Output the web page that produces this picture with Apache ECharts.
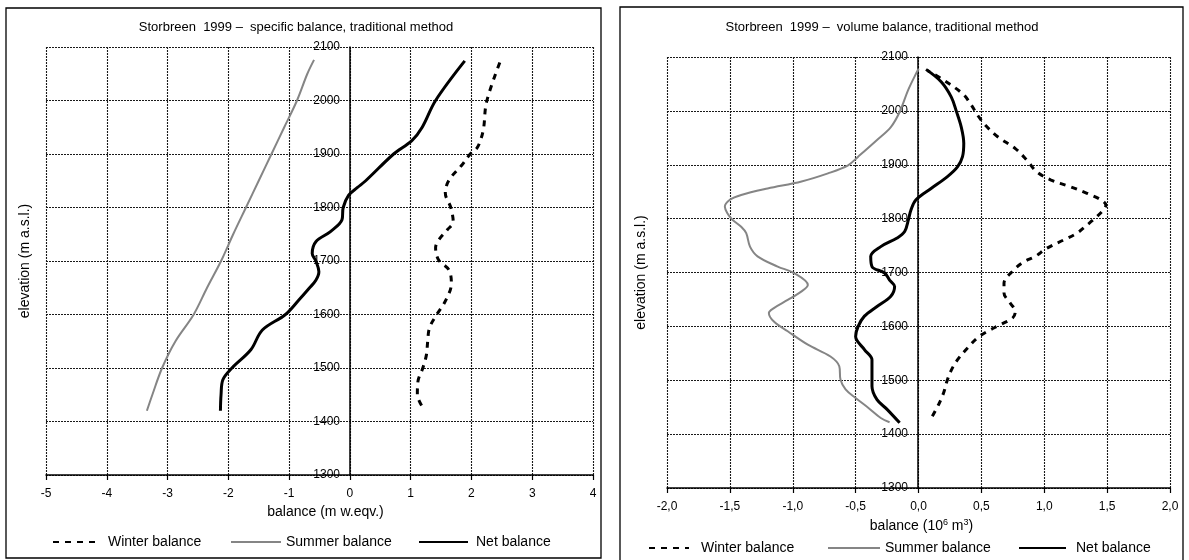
<!DOCTYPE html>
<html>
<head>
<meta charset="utf-8">
<script src="https://cdn.jsdelivr.net/npm/echarts@6/dist/echarts.min.js"></script>
<style>
html,body{margin:0;padding:0;background:#fff;}
#chart{width:1189px;height:560px;}
</style>
</head>
<body>
<div id="chart"></div>
<script>
// ---------- Left chart: specific balance (m w.eqv.) ----------
var winterL_elev = [1430,1450,1475,1500,1525,1550,1575,1600,1625,1658,1683,1702,1725,1739,1758,1773,1800,1827,1851,1879,1900,1911,1926,1948,1998,2075];
var winterL_val  = [1.18,1.11,1.12,1.20,1.26,1.28,1.31,1.43,1.57,1.67,1.63,1.46,1.41,1.46,1.60,1.70,1.66,1.57,1.63,1.84,1.98,2.09,2.15,2.20,2.25,2.48];

var summerL_elev = [1420,1450,1500,1550,1600,1650,1700,1750,1800,1850,1900,1950,2000,2050,2076];
var summerL_val  = [-3.34,-3.25,-3.09,-2.87,-2.57,-2.35,-2.12,-1.92,-1.71,-1.50,-1.29,-1.08,-0.87,-0.70,-0.59];

var netL_elev = [1420,1450,1478,1500,1534,1571,1600,1627,1649,1664,1680,1700,1714,1736,1755,1777,1800,1823,1837,1850,1900,1925,1950,2000,2074];
var netL_val  = [-2.13,-2.12,-2.09,-1.94,-1.63,-1.44,-1.06,-0.84,-0.67,-0.56,-0.51,-0.56,-0.62,-0.56,-0.32,-0.13,-0.11,-0.02,0.12,0.26,0.72,1.02,1.19,1.41,1.89];

// ---------- Right chart: volume balance (10^6 m3) ----------
var winterR_elev = [1433,1455,1477,1501,1523,1541,1560,1579,1591,1603,1616,1628,1643,1662,1680,1705,1720,1730,1745,1761,1773,1788,1804,1816,1825,1835,1847,1859,1872,1887,1909,1930,1952,1974,1992,2011,2032,2060,2075];
var winterR_val  = [0.11,0.16,0.20,0.23,0.27,0.32,0.39,0.47,0.55,0.65,0.75,0.77,0.73,0.68,0.68,0.76,0.84,0.93,1.02,1.16,1.26,1.34,1.42,1.47,1.49,1.45,1.34,1.21,1.05,0.94,0.86,0.77,0.63,0.53,0.47,0.42,0.35,0.18,0.07];

var summerR_elev = [1422,1430,1449,1467,1483,1501,1526,1544,1566,1591,1609,1625,1634,1649,1665,1677,1699,1711,1730,1748,1773,1785,1798,1810,1822,1835,1844,1856,1869,1884,1899,1915,1946,1970,1998,2040,2078];
var summerR_val  = [-0.23,-0.30,-0.40,-0.50,-0.58,-0.62,-0.63,-0.70,-0.88,-1.04,-1.15,-1.19,-1.15,-1.04,-0.93,-0.88,-0.99,-1.12,-1.28,-1.34,-1.37,-1.41,-1.48,-1.52,-1.54,-1.50,-1.41,-1.20,-0.93,-0.72,-0.56,-0.48,-0.33,-0.22,-0.15,-0.08,0.00];

var netR_elev = [1421,1446,1464,1489,1514,1538,1557,1581,1600,1619,1637,1656,1674,1686,1699,1711,1730,1748,1764,1776,1798,1816,1835,1856,1878,1896,1915,1940,1970,2000,2026,2054,2077];
var netR_val  = [-0.15,-0.25,-0.33,-0.37,-0.37,-0.37,-0.43,-0.50,-0.48,-0.43,-0.33,-0.22,-0.19,-0.23,-0.27,-0.37,-0.38,-0.30,-0.17,-0.11,-0.08,-0.06,-0.02,0.10,0.23,0.31,0.35,0.36,0.34,0.30,0.26,0.18,0.06];

// ---------- Axis ticks / labels ----------
var xTicksL = [-5,-4,-3,-2,-1,0,1,2,3,4];
var xTicksR = [-2.0,-1.5,-1.0,-0.5,0.0,0.5,1.0,1.5,2.0];
var yTicks  = [1300,1400,1500,1600,1700,1800,1900,2000,2100];
var titleL = 'Storbreen  1999 \u2013  specific balance, traditional method';
var titleR = 'Storbreen  1999 \u2013  volume balance, traditional method';

function pairs(vals, elevs){ return vals.map(function(v,i){ return [v, elevs[i]]; }); }

var FONT = '"Liberation Sans", Arial, Helvetica, sans-serif';

var styles = {
  'Winter balance': {color:'#000', width:3, type:[6,6], cap:'butt'},
  'Summer balance': {color:'#858585', width:2},
  'Net balance':    {color:'#000', width:3}
};

function mkSeries(name, data, idx){
  return {
    name: name, type:'line', xAxisIndex: idx, yAxisIndex: idx,
    data: data, smooth: 0.35, symbol:'none', showSymbol:false,
    lineStyle: styles[name], itemStyle:{color: styles[name].color}, z: 5,
    animation:false
  };
}

var GRID_LINE = {color:'#1a1a1a', type:[2,1], width:1.1};

function xAxisCfg(idx, ticks, fmt, name, gap, namePad){
  return {
    type:'value', gridIndex: idx, min: ticks[0], max: ticks[ticks.length-1], interval: ticks[1]-ticks[0],
    position:'bottom',
    axisLine:{onZero:false, lineStyle:{color:'#000', width:1.5}},
    axisTick:{show:true, inside:false, length:5, lineStyle:{color:'#000', width:1.2}},
    axisLabel:{color:'#000', fontSize:12, fontFamily:FONT, margin:13, formatter: fmt},
    splitLine:{show:true, lineStyle:GRID_LINE},
    name: name, nameLocation:'middle', nameGap: gap,
    nameTextStyle:{color:'#000', fontSize:14, fontFamily:FONT, padding:namePad,
      rich:{a:{fontSize:14, fontFamily:FONT, color:'#000'}, s:{fontSize:9, fontFamily:FONT, color:'#000', padding:[0,0,7,0]}}}
  };
}

// y axis drawn at x = 0 of the balance axis (offset inward from the grid's left edge)
function yAxisCfg(idx, offset, nameGap){
  return {
    type:'value', gridIndex: idx, min: yTicks[0], max: yTicks[yTicks.length-1], interval: 100,
    position:'left', offset: offset,
    axisLine:{show:true, onZero:false, lineStyle:{color:'#000', width:1.5}},
    axisTick:{show:false},
    axisLabel:{color:'#000', fontSize:12, fontFamily:FONT, margin:10, formatter:function(v){ return String(v); }},
    splitLine:{show:true, lineStyle:GRID_LINE},
    name:'elevation (m a.s.l.)', nameLocation:'middle', nameGap: nameGap,
    nameTextStyle:{color:'#000', fontSize:14, fontFamily:FONT}
  };
}

function legendItem(name, left, top, w, pad){
  return {
    data:[name], left:left, top:top, itemWidth:w, itemHeight:12, orient:'horizontal',
    selectedMode:false, padding:0,
    itemStyle:{opacity:0},
    textStyle:{color:'#000', fontSize:14, fontFamily:FONT, padding:[0,0,0,pad]}
  };
}

var chart = echarts.init(document.getElementById('chart'), null, {renderer:'canvas'});
var option = {
  animation:false,
  backgroundColor:'#fff',
  title:[
    {text:titleL, left:291, top:16, textAlign:'center', textStyle:{color:'#000', fontSize:13, fontWeight:'normal', fontFamily:FONT}},
    {text:titleR, left:877, top:16, textAlign:'center', textStyle:{color:'#000', fontSize:13, fontWeight:'normal', fontFamily:FONT}}
  ],
  graphic:[
    {type:'rect', shape:{x:6, y:8, width:595, height:550}, style:{fill:'none', stroke:'#000', lineWidth:1.3}, silent:true, z:-1},
    {type:'rect', shape:{x:620, y:7, width:563, height:556}, style:{fill:'none', stroke:'#000', lineWidth:1.3}, silent:true, z:-1}
  ],
  legend:[
    legendItem('Winter balance', 52, 535, 46, 4),
    legendItem('Summer balance', 230, 535, 50, 0),
    legendItem('Net balance', 418, 535, 49, 3),
    legendItem('Winter balance', 648, 541, 40, 7),
    legendItem('Summer balance', 827, 541, 52, 0),
    legendItem('Net balance', 1018, 541, 47, 5)
  ],
  grid:[
    {left:46, top:47, width:547, height:428, containLabel:false, outerBoundsMode:'none'},
    {left:667, top:57, width:503, height:431, containLabel:false, outerBoundsMode:'none'}
  ],
  xAxis:[
    xAxisCfg(0, xTicksL, function(v){ return String(v); }, 'balance (m w.eqv.)', 26, [0,0,0,12]),
    xAxisCfg(1, xTicksR, function(v){ return v.toFixed(1).replace('.', ','); }, '{a|balance (10}{s|6}{a| m}{s|3}{a|)}', 26, [0,0,0,6])
  ],
  yAxis:[ yAxisCfg(0, -304, 318), yAxisCfg(1, -251, 270) ],
  series:[
    mkSeries('Winter balance', pairs(winterL_val, winterL_elev), 0),
    mkSeries('Summer balance', pairs(summerL_val, summerL_elev), 0),
    mkSeries('Net balance', pairs(netL_val, netL_elev), 0),
    mkSeries('Winter balance', pairs(winterR_val, winterR_elev), 1),
    mkSeries('Summer balance', pairs(summerR_val, summerR_elev), 1),
    mkSeries('Net balance', pairs(netR_val, netR_elev), 1)
  ]
};
chart.setOption(option);
</script>
</body>
</html>
